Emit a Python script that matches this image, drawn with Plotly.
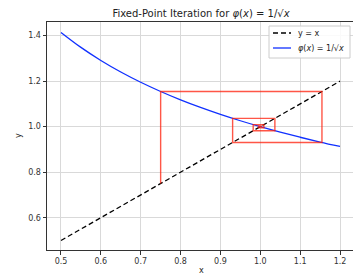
import plotly.graph_objects as go

# Curve phi(x) = 1/sqrt(x), sampled values
curve_x = [0.50, 0.55, 0.60, 0.65, 0.70, 0.75, 0.80, 0.85, 0.90, 0.95,
           1.00, 1.05, 1.10, 1.15, 1.20]
curve_y = [1.4142, 1.3484, 1.2910, 1.2403, 1.1952, 1.1547, 1.1180, 1.0847,
           1.0541, 1.0260, 1.0000, 0.9759, 0.9535, 0.9325, 0.9129]

# Identity line y = x
diag_x = [0.5, 1.2]
diag_y = [0.5, 1.2]

# Fixed-point iterates x_k (x_{k+1} = phi(x_k)), starting at 0.75
iterates = [0.75, 1.1547, 0.9306, 1.0366, 0.9822, 1.0090, 0.9955, 1.0023,
            0.9989, 1.0006, 0.9997]

# Cobweb path built from the iterates
cob_x, cob_y = [iterates[0]], [iterates[0]]
for k in range(len(iterates) - 1):
    cob_x += [iterates[k], iterates[k + 1]]
    cob_y += [iterates[k + 1], iterates[k + 1]]

x_ticks = [0.5, 0.6, 0.7, 0.8, 0.9, 1.0, 1.1, 1.2]
y_ticks = [0.6, 0.8, 1.0, 1.2, 1.4]

legend_names = ["y = x", "<i>φ</i>(<i>x</i>) = 1/√<i>x</i>"]

FONT = "DejaVu Sans"
L, R, T, B = 47, 0, 22, 26
W, H = 353, 276
PW, PH = W - L - R, H - T - B


def px(xpix):
    return (xpix - L) / PW


def py(ypix):
    return (H - B - ypix) / PH


DIAG_LINE = dict(color="black", width=1.3, dash="5px,3px")
CURVE_LINE = dict(color="#1030ff", width=1.3)

fig = go.Figure()
fig.add_trace(go.Scatter(x=diag_x, y=diag_y, mode="lines", name=legend_names[0],
                         showlegend=False, line=DIAG_LINE))
fig.add_trace(go.Scatter(x=curve_x, y=curve_y, mode="lines", line_shape="spline",
                         name=legend_names[1], showlegend=False, line=CURVE_LINE))
fig.add_trace(go.Scatter(x=cob_x, y=cob_y, mode="lines", showlegend=False,
                         line=dict(color="rgba(255,30,10,0.75)", width=1.4)))

axis_common = dict(
    showgrid=True, gridcolor="#d9d9d9", gridwidth=1,
    showline=True, linecolor="#333333", linewidth=1, mirror=True,
    ticks="outside", ticklen=3.5, tickcolor="#333333", tickwidth=1,
    tickfont=dict(family=FONT, size=8, color="#333333"),
    zeroline=False, automargin=False,
)

# Manual legend (box, line samples, labels)
shapes = [
    dict(type="rect", xref="paper", yref="paper", x0=px(269), x1=px(350),
         y0=py(58), y1=py(26), fillcolor="rgba(255,255,255,0.85)",
         line=dict(color="#cccccc", width=1), layer="above"),
    dict(type="line", xref="paper", yref="paper", x0=px(273), x1=px(291),
         y0=py(33), y1=py(33), line=DIAG_LINE, layer="above"),
    dict(type="line", xref="paper", yref="paper", x0=px(273), x1=px(291),
         y0=py(48), y1=py(48), line=CURVE_LINE, layer="above"),
]

annotations = [
    dict(text=legend_names[0], xref="paper", yref="paper", x=px(296), y=py(33),
         showarrow=False, xanchor="left", yanchor="middle",
         font=dict(family=FONT, size=8, color="#222222")),
    dict(text=legend_names[1], xref="paper", yref="paper", x=px(296), y=py(48),
         showarrow=False, xanchor="left", yanchor="middle",
         font=dict(family=FONT, size=8, color="#222222")),
    dict(text="x", xref="paper", yref="paper", x=px(201), y=py(270),
         showarrow=False, xanchor="center", yanchor="middle",
         font=dict(family=FONT, size=8, color="#222222")),
    dict(text="y", xref="paper", yref="paper", x=px(18), y=0.5,
         showarrow=False, xanchor="center", yanchor="middle",
         textangle=-90, font=dict(family=FONT, size=8, color="#222222")),
]

fig.update_layout(
    width=W, height=H,
    margin=dict(l=L, r=R, t=T, b=B, autoexpand=False),
    paper_bgcolor="white", plot_bgcolor="white",
    font=dict(family=FONT, size=8, color="#222222"),
    showlegend=False,
    title=dict(text="Fixed-Point Iteration for <i>φ</i>(<i>x</i>) = 1/√<i>x</i>",
               x=201 / W, xanchor="center",
               y=1 - 13 / H, yanchor="middle",
               font=dict(family=FONT, size=10, color="#222222")),
    xaxis=dict(range=[0.4649, 1.2326], tickvals=x_ticks,
               ticktext=[f"{v:.1f}" for v in x_ticks], **axis_common),
    yaxis=dict(range=[0.458, 1.460], tickvals=y_ticks,
               ticktext=[f"{v:.1f}" for v in y_ticks], **axis_common),
    shapes=shapes,
    annotations=annotations,
)

fig.write_html("out.html", config={"displayModeBar": False},
               post_script="document.body.style.margin='0';"
                           "document.body.style.overflow='hidden';")
